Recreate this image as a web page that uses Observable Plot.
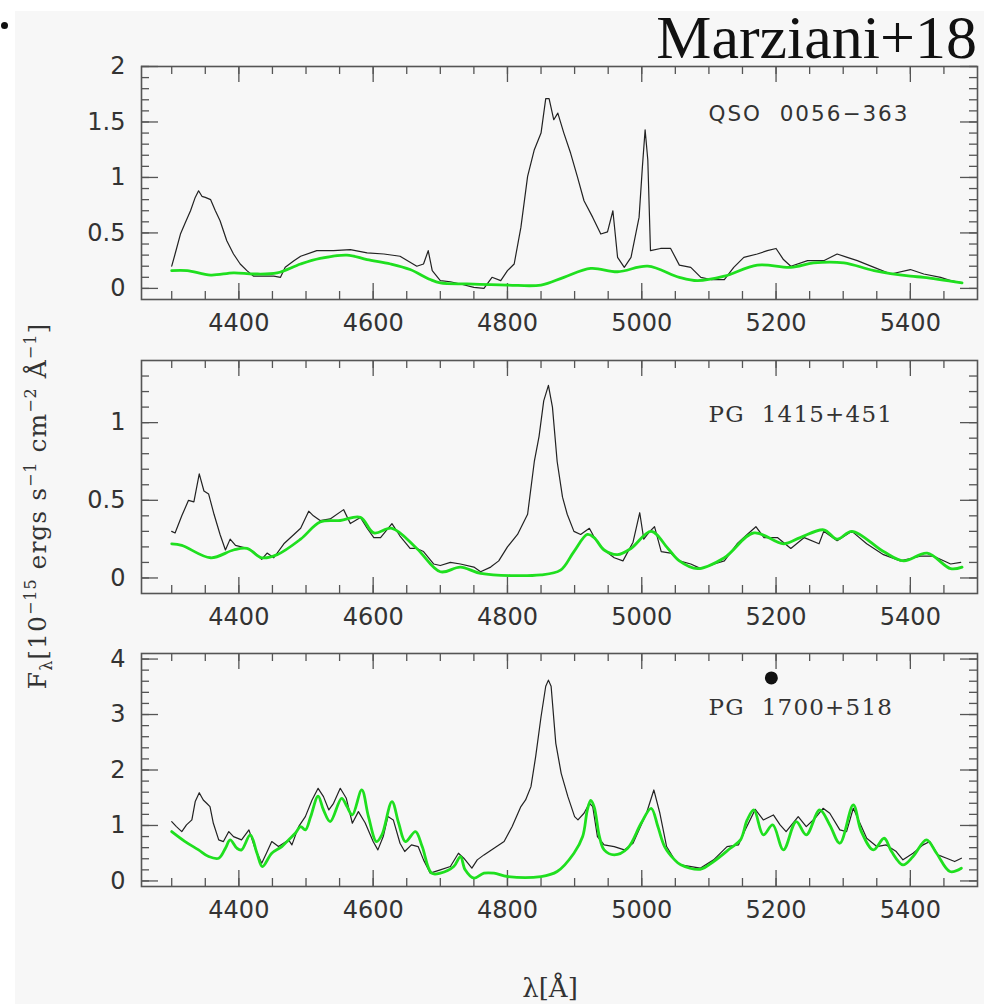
<!DOCTYPE html>
<html><head><meta charset="utf-8">
<script src="https://cdn.jsdelivr.net/npm/d3@7"></script>
<script src="https://cdn.jsdelivr.net/npm/@observablehq/plot@0.6"></script>
<style>
body{margin:0;background:#fff;}
#page{position:relative;width:984px;height:1004px;overflow:hidden;background:#fff;}
#bg{position:absolute;left:15px;top:11px;right:0;bottom:0;background:#f7f7f7;}
#dot{position:absolute;left:1px;top:22px;width:7px;height:7px;border-radius:50%;background:#111;}
#title{position:absolute;right:7px;top:6px;font-family:"Liberation Serif","Times New Roman",serif;font-size:62px;line-height:1;color:#111;white-space:nowrap;}
#ylab{position:absolute;left:37px;top:506px;transform:translate(-50%,-50%) rotate(-90deg);white-space:nowrap;font-family:"DejaVu Serif",serif;font-size:25px;line-height:1;color:#333;letter-spacing:1px;}
#ylab sup,#ylab sub{font-size:16px;line-height:0;}
#xlab{position:absolute;left:550px;top:975px;transform:translateX(-50%);white-space:nowrap;font-family:"DejaVu Serif",serif;font-size:26px;line-height:1;color:#333;}
</style></head><body>
<div id="page">
<div id="bg"></div>
<div id="dot"></div>
<div id="title">Marziani+18</div>
<div id="ylab">F<sub>λ</sub>[10<sup>−15</sup> ergs s<sup>−1</sup> cm<sup>−2</sup> Å<sup>−1</sup>]</div>
<div id="xlab">λ[Å]</div>
</div>
<script>
// ---------- data ----------
const panelNames = ["QSO\u00A0\u00A00056−363", "PG\u00A0\u00A01415+451", "PG\u00A0\u00A01700+518"];

const xMajor = [4400, 4600, 4800, 5000, 5200, 5400];
const xMinor = d3.range(4300, 5451, 50);

const y1Major = [0, 0.5, 1, 1.5, 2];
const y1Minor = d3.range(0, 21).map(i => i / 10);
const y2Major = [0, 0.5, 1];
const y2Minor = d3.range(0, 14).map(i => i / 10);
const y3Major = [0, 1, 2, 3, 4];
const y3Minor = d3.range(0, 21).map(i => i / 5);

// QSO 0056-363 observed
const lam1Obs = [4300,4305,4313,4320,4328,4335,4340,4345,4350,4358,4365,4372,4382,4392,4402,4412,4422,4437,4452,4462,4469,4482,4492,4516,4541,4566,4591,4616,4640,4665,4675,4682,4688,4700,4715,4730,4750,4765,4777,4790,4800,4810,4820,4830,4840,4850,4857,4862,4869,4875,4884,4894,4904,4914,4927,4939,4949,4957,4964,4974,4984,4996,5001,5005,5009,5013,5028,5043,5056,5073,5088,5103,5123,5137,5152,5172,5187,5200,5211,5222,5247,5271,5291,5306,5321,5346,5371,5400,5420,5445,5460,5477];
const flux1Obs = [0.20,0.31,0.49,0.59,0.70,0.82,0.88,0.83,0.82,0.80,0.70,0.61,0.43,0.31,0.22,0.16,0.11,0.11,0.11,0.10,0.19,0.25,0.29,0.34,0.34,0.35,0.32,0.31,0.29,0.20,0.22,0.34,0.16,0.07,0.06,0.04,0.01,0.00,0.10,0.07,0.16,0.22,0.55,1.01,1.25,1.40,1.71,1.71,1.52,1.58,1.40,1.22,1.01,0.79,0.64,0.49,0.51,0.70,0.28,0.19,0.28,0.64,1.10,1.43,1.16,0.34,0.36,0.36,0.21,0.19,0.10,0.08,0.08,0.19,0.28,0.31,0.34,0.36,0.26,0.20,0.25,0.25,0.31,0.28,0.25,0.19,0.13,0.17,0.13,0.10,0.07,0.05];
// QSO 0056-363 Fe II model
const lam1Fit = [4300,4323,4358,4392,4422,4457,4492,4521,4561,4591,4626,4655,4685,4700,4740,4800,4850,4884,4924,4964,5009,5056,5083,5123,5172,5222,5256,5301,5346,5400,5420,5477];
const flux1Fit = [0.16,0.16,0.12,0.14,0.13,0.14,0.22,0.27,0.30,0.26,0.22,0.17,0.08,0.05,0.04,0.03,0.03,0.10,0.18,0.15,0.20,0.10,0.07,0.11,0.21,0.19,0.23,0.23,0.16,0.11,0.10,0.05];

// PG 1415+451 observed
const lam2Obs = [4300,4305,4315,4325,4333,4341,4348,4355,4363,4372,4380,4387,4395,4412,4422,4434,4442,4452,4467,4482,4492,4504,4511,4521,4536,4556,4566,4581,4591,4601,4611,4628,4640,4655,4665,4675,4690,4700,4715,4730,4750,4760,4775,4787,4800,4815,4830,4840,4847,4854,4861,4867,4874,4882,4889,4899,4909,4922,4932,4944,4959,4972,4987,4997,5003,5012,5019,5029,5043,5056,5073,5088,5108,5123,5142,5157,5170,5182,5202,5222,5242,5264,5271,5291,5313,5335,5360,5385,5415,5435,5460,5475];
const flux2Obs = [0.30,0.29,0.40,0.50,0.49,0.67,0.56,0.54,0.41,0.28,0.18,0.25,0.21,0.19,0.17,0.12,0.16,0.13,0.22,0.28,0.32,0.43,0.40,0.37,0.38,0.44,0.35,0.39,0.32,0.26,0.26,0.35,0.27,0.19,0.19,0.17,0.09,0.08,0.10,0.09,0.07,0.04,0.07,0.11,0.20,0.28,0.41,0.75,0.91,1.14,1.24,1.10,0.75,0.52,0.41,0.30,0.28,0.32,0.24,0.18,0.13,0.11,0.23,0.42,0.25,0.30,0.33,0.17,0.16,0.11,0.09,0.06,0.09,0.11,0.22,0.28,0.33,0.26,0.26,0.19,0.26,0.22,0.30,0.24,0.30,0.22,0.15,0.11,0.14,0.14,0.09,0.10];
// PG 1415+451 Fe II model
const lam2Fit = [4300,4315,4358,4392,4412,4434,4457,4492,4521,4551,4581,4601,4628,4665,4700,4730,4760,4850,4879,4899,4919,4929,4944,4964,4984,5014,5039,5056,5083,5123,5167,5211,5236,5271,5291,5313,5360,5390,5425,5460,5477];
const flux2Fit = [0.22,0.21,0.13,0.18,0.19,0.13,0.15,0.25,0.36,0.37,0.39,0.29,0.32,0.19,0.04,0.07,0.03,0.02,0.05,0.17,0.28,0.26,0.18,0.15,0.19,0.30,0.19,0.11,0.06,0.13,0.29,0.22,0.26,0.31,0.25,0.30,0.17,0.11,0.16,0.06,0.07];

// PG 1700+518 observed
const lam3Obs = [4300,4307,4315,4322,4330,4335,4341,4347,4352,4357,4362,4370,4377,4385,4392,4404,4415,4424,4434,4441,4449,4459,4474,4479,4489,4499,4509,4518,4526,4534,4541,4551,4560,4569,4578,4588,4600,4607,4615,4622,4630,4640,4647,4657,4667,4675,4685,4700,4715,4727,4735,4747,4755,4765,4780,4795,4807,4820,4827,4835,4842,4850,4857,4861,4865,4872,4880,4890,4900,4905,4914,4922,4927,4934,4944,4959,4974,4987,4997,5007,5018,5027,5037,5049,5058,5087,5107,5127,5144,5154,5169,5181,5196,5206,5215,5233,5245,5258,5270,5280,5295,5305,5315,5325,5335,5350,5364,5379,5389,5404,5419,5429,5441,5454,5466,5476];
const flux3Obs = [1.07,0.98,0.89,1.01,1.10,1.43,1.59,1.46,1.40,1.34,1.04,0.74,0.71,0.89,0.80,0.74,0.92,0.59,0.32,0.50,0.71,0.62,0.74,0.65,0.98,1.16,1.46,1.67,1.52,1.28,1.40,1.67,1.49,1.04,1.25,1.05,0.71,0.56,0.80,1.16,1.10,0.68,0.53,0.65,0.62,0.38,0.14,0.20,0.26,0.50,0.41,0.23,0.38,0.47,0.59,0.71,0.98,1.34,1.46,1.70,2.24,2.96,3.51,3.62,3.51,2.48,1.94,1.52,1.16,1.10,1.22,1.40,1.34,0.80,0.65,0.62,0.56,0.68,0.95,1.22,1.64,1.22,0.62,0.38,0.29,0.23,0.38,0.62,0.65,0.92,1.29,1.10,1.19,1.01,0.89,1.16,0.98,1.13,1.31,1.22,0.92,0.89,1.31,1.04,0.77,0.62,0.65,0.53,0.38,0.50,0.65,0.71,0.47,0.41,0.35,0.41];
// PG 1700+518 Fe II model
const lam3Fit = [4300,4320,4340,4355,4370,4380,4387,4397,4404,4417,4427,4435,4449,4464,4474,4484,4492,4499,4507,4518,4526,4536,4553,4561,4569,4583,4593,4605,4613,4628,4638,4648,4663,4673,4687,4700,4720,4730,4737,4750,4765,4780,4800,4850,4874,4899,4912,4919,4924,4929,4937,4944,4959,4979,4999,5014,5024,5034,5049,5058,5087,5107,5132,5147,5157,5167,5181,5195,5211,5230,5245,5265,5280,5295,5315,5327,5345,5361,5372,5389,5404,5424,5439,5459,5476];
const flux3Fit = [0.89,0.71,0.56,0.44,0.41,0.59,0.74,0.59,0.56,0.83,0.50,0.26,0.50,0.62,0.74,0.86,0.98,0.92,1.16,1.53,1.28,1.07,1.49,1.34,1.19,1.64,1.16,0.71,0.83,1.43,1.04,0.71,0.89,0.62,0.14,0.14,0.26,0.44,0.20,0.05,0.14,0.14,0.08,0.08,0.17,0.50,0.80,1.28,1.45,1.34,0.80,0.56,0.47,0.59,1.04,1.31,0.98,0.62,0.38,0.29,0.21,0.35,0.59,0.74,1.10,1.28,0.83,1.01,0.56,1.07,0.83,1.28,1.01,0.68,1.37,0.89,0.56,0.77,0.53,0.29,0.44,0.74,0.50,0.17,0.23];

// marker dot in the third panel
const markerLam = [5193];
const markerFlux = [3.66];

// ---------- drawing ----------
const xDomain = [4255, 5500];
const W = 984, mL = 141, mR = 7, mT = 20, mB = 40, innerH = 233;
const innerW = W - mL - mR;
const frameColor = "#555";
const tickFont = "'DejaVu Sans', sans-serif";

function series(lam, flux) { return lam.map((l, i) => ({lam: l, flux: flux[i]})); }

const panels = [
  {name: panelNames[0], obs: series(lam1Obs, flux1Obs), fit: series(lam1Fit, flux1Fit), yDomain: [-0.1, 2.0], yMajor: y1Major, yMinor: y1Minor, top: 46, labelFont: tickFont, labelDy: 48, labelSize: 21.5, spacing: 2},
  {name: panelNames[1], obs: series(lam2Obs, flux2Obs), fit: series(lam2Fit, flux2Fit), yDomain: [-0.1, 1.4], yMajor: y2Major, yMinor: y2Minor, top: 340, labelFont: "'DejaVu Serif', serif", labelDy: 54, labelSize: 23, spacing: 1.2},
  {name: panelNames[2], obs: series(lam3Obs, flux3Obs), fit: series(lam3Fit, flux3Fit), yDomain: [-0.1, 4.1], yMajor: y3Major, yMinor: y3Minor, top: 633, labelFont: "'DejaVu Serif', serif", labelDy: 54, labelSize: 23, spacing: 1.2,
   marker: series(markerLam, markerFlux)}
];

const page = document.getElementById("page");

for (const p of panels) {
  const marks = [
    Plot.frame({stroke: frameColor, strokeWidth: 1.6}),
    Plot.tickX(xMinor, {x: d => d, insetTop: innerH - 8, stroke: frameColor, strokeWidth: 1.3}),
    Plot.tickX(xMinor, {x: d => d, insetBottom: innerH - 8, stroke: frameColor, strokeWidth: 1.3}),
    Plot.tickX(xMajor, {x: d => d, insetTop: innerH - 16, stroke: frameColor, strokeWidth: 1.3}),
    Plot.tickX(xMajor, {x: d => d, insetBottom: innerH - 16, stroke: frameColor, strokeWidth: 1.3}),
    Plot.tickY(p.yMinor, {y: d => d, insetRight: innerW - 8, stroke: frameColor, strokeWidth: 1.3}),
    Plot.tickY(p.yMinor, {y: d => d, insetLeft: innerW - 8, stroke: frameColor, strokeWidth: 1.3}),
    Plot.tickY(p.yMajor, {y: d => d, insetRight: innerW - 17, stroke: frameColor, strokeWidth: 1.3}),
    Plot.tickY(p.yMajor, {y: d => d, insetLeft: innerW - 17, stroke: frameColor, strokeWidth: 1.3}),
    Plot.axisX(xMajor, {tickSize: 0, tickPadding: 14.5, tickFormat: d => String(d), fontSize: 24, fill: "#333", label: null}),
    Plot.axisY(p.yMajor, {tickSize: 0, tickPadding: 16, tickFormat: d => String(d), fontSize: 24, fill: "#333", label: null}),
    Plot.line(p.obs, {x: "lam", y: "flux", stroke: "#222", strokeWidth: 1.2, curve: "linear"}),
    Plot.line(p.fit, {x: "lam", y: "flux", stroke: "#1fdf1f", strokeWidth: 2.8, curve: "catmull-rom"}),
    Plot.text([p.name], {text: d => d, frameAnchor: "top-left", dx: 567, dy: p.labelDy, textAnchor: "start", lineAnchor: "middle", fontSize: p.labelSize, fontFamily: p.labelFont, fill: "#333"})
  ];
  if (p.marker) marks.push(Plot.dot(p.marker, {x: "lam", y: "flux", r: 6.5, fill: "#111", stroke: "none"}));

  const chart = Plot.plot({
    width: W,
    height: mT + innerH + mB,
    marginLeft: mL, marginRight: mR, marginTop: mT, marginBottom: mB,
    x: {domain: xDomain},
    y: {domain: p.yDomain},
    style: {background: "transparent", fontFamily: tickFont, overflow: "visible"},
    marks
  });
  chart.querySelectorAll("text").forEach(t => {
    if (t.textContent === p.name) {
      t.setAttribute("letter-spacing", p.spacing);
      t.style.letterSpacing = p.spacing + "px";
    }
  });
  chart.style.position = "absolute";
  chart.style.left = "0px";
  chart.style.top = p.top + "px";
  page.appendChild(chart);
}
</script>
</body></html>
